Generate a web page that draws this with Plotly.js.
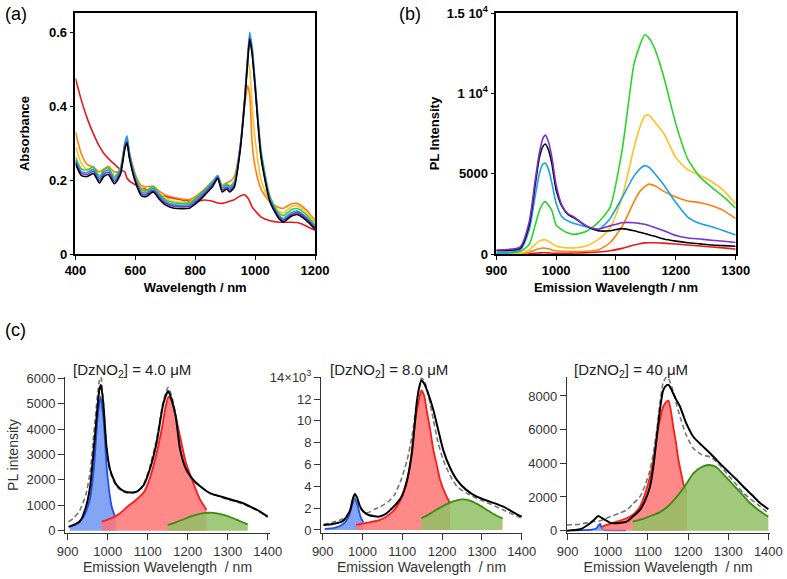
<!DOCTYPE html>
<html>
<head>
<meta charset="utf-8">
<script src="https://cdn.plot.ly/plotly-3.0.1.min.js"></script>
<style>
  html, body { margin: 0; padding: 0; background: #fff; }
  #chart { width: 787px; height: 579px; }
</style>
</head>
<body>
<div id="chart"></div>
<script>
// ---- (a) absorbance spectra ----
const wlA = [400,420,440,460,480,495,510,530,550,565,572,580,600,620,635,660,680,700,730,780,800,830,860,875,890,905,915,930,950,965,975,982,990,1000,1020,1050,1080,1095,1120,1140,1170,1200];
const absRed = [0.475,0.415,0.365,0.325,0.291,0.272,0.258,0.243,0.228,0.222,0.205,0.198,0.187,0.178,0.175,0.168,0.16,0.156,0.15,0.143,0.142,0.146,0.142,0.138,0.137,0.14,0.143,0.147,0.157,0.16,0.152,0.142,0.127,0.117,0.1,0.09,0.086,0.086,0.086,0.085,0.076,0.064];
const absOrange = [0.331,0.27,0.242,0.235,0.222,0.23,0.237,0.222,0.225,0.295,0.307,0.275,0.215,0.185,0.182,0.183,0.17,0.16,0.153,0.147,0.155,0.175,0.198,0.21,0.187,0.193,0.196,0.209,0.29,0.4,0.455,0.43,0.3,0.235,0.175,0.14,0.125,0.124,0.135,0.137,0.12,0.09];
const absYellow = [0.29,0.245,0.228,0.23,0.21,0.222,0.228,0.21,0.225,0.29,0.305,0.27,0.21,0.178,0.172,0.18,0.165,0.152,0.142,0.14,0.15,0.17,0.192,0.207,0.185,0.19,0.185,0.195,0.28,0.42,0.52,0.5,0.4,0.31,0.2,0.14,0.115,0.112,0.128,0.13,0.115,0.085];
const absGreen = [0.262,0.23,0.228,0.236,0.21,0.228,0.233,0.208,0.233,0.3,0.315,0.275,0.212,0.174,0.17,0.183,0.163,0.147,0.138,0.138,0.15,0.172,0.198,0.212,0.183,0.19,0.183,0.195,0.29,0.42,0.53,0.59,0.56,0.465,0.28,0.155,0.11,0.104,0.12,0.123,0.107,0.078];
const absCyan = [0.255,0.223,0.221,0.229,0.204,0.222,0.227,0.202,0.227,0.3,0.32,0.272,0.206,0.168,0.165,0.178,0.158,0.142,0.133,0.133,0.145,0.168,0.195,0.212,0.178,0.186,0.178,0.19,0.29,0.42,0.535,0.6,0.555,0.46,0.27,0.148,0.104,0.096,0.112,0.116,0.1,0.074];
const absPurple = [0.25,0.218,0.216,0.224,0.198,0.216,0.221,0.196,0.221,0.29,0.305,0.265,0.2,0.163,0.16,0.173,0.153,0.138,0.129,0.129,0.14,0.163,0.19,0.208,0.173,0.181,0.173,0.185,0.285,0.415,0.525,0.585,0.545,0.455,0.265,0.145,0.1,0.092,0.107,0.112,0.097,0.071];
const absBlack = [0.245,0.212,0.21,0.218,0.192,0.21,0.215,0.19,0.215,0.285,0.3,0.26,0.195,0.158,0.155,0.168,0.148,0.133,0.124,0.124,0.135,0.158,0.185,0.205,0.168,0.176,0.168,0.18,0.28,0.41,0.52,0.58,0.54,0.45,0.26,0.14,0.095,0.087,0.102,0.107,0.092,0.067];

// ---- (b) PL spectra ----
const wlB = [900,940,955,965,972,978,982,987,993,1000,1010,1020,1030,1050,1070,1090,1110,1130,1140,1148,1155,1165,1180,1200,1220,1240,1260,1280,1300];
const plPurple = [250,450,2000,4600,6300,7200,7400,7000,6000,4300,3000,2500,2300,1750,1550,1750,1950,1950,1900,1850,1780,1650,1450,1150,1000,930,860,790,720];
const plBlack = [200,350,1800,4300,6000,6700,6850,6500,5600,4000,2950,2450,2250,1750,1450,1450,1580,1450,1350,1280,1200,1100,930,800,700,630,560,520,480];
const plCyan = [40,250,1500,3600,5000,5600,5650,5300,4400,3160,2300,2050,1900,1700,1500,2200,3500,4850,5300,5500,5400,5000,4300,3200,2300,1900,1700,1450,1180];
const plGreen = [40,150,600,1800,2700,3150,3260,3050,2700,1800,1500,1300,1220,1400,1950,2900,6400,11800,13000,13650,13450,12750,11000,8100,5900,4800,4150,3550,2850];
const plYellow = [0,40,250,600,800,880,880,800,650,500,420,380,380,500,900,1600,3500,6600,7900,8600,8650,8200,7500,6000,5250,4900,4500,3950,3100];
const plOrange = [0,20,100,250,330,370,360,330,250,200,170,150,150,170,250,700,1700,3250,3900,4200,4350,4250,3900,3550,3300,3200,3000,2700,2200];
const plRed = [0,0,20,50,70,80,80,70,50,40,40,50,60,80,120,200,350,560,640,690,700,700,680,620,560,500,440,380,300];

// ---- (c) peak fits, [DzNO2] = 4.0 uM ----
const c1Wl = [902,915,930,945,956,968,979,983,989,997,1006,1022,1040,1060,1075,1090,1105,1122,1139,1151,1160,1170,1181,1195,1214,1235,1256,1277,1297,1318,1339,1360,1381,1400];
const c1Data = [150,230,350,900,1730,3700,5540,5740,5000,3300,2400,1800,1560,1500,1560,1800,2400,3440,5000,5500,5150,4500,3200,2450,2000,1700,1470,1370,1280,1180,1080,920,750,550];
const c1Fit = [350,500,800,1400,2300,4300,5900,6050,5100,3300,2300,1750,1520,1480,1560,1850,2500,3600,5100,5650,5300,4550,3200,2400,1950,1700,1480,1360,1250,1150,1050,900,730,530];
const c1BlueWl = [905,920,940,955,965,975,982,990,998,1010,1020];
const c1Blue = [160,250,550,1200,2400,4500,5270,4300,2400,950,480];
const c1RedWl = [985,1010,1030,1050,1070,1090,1105,1120,1135,1145,1152,1160,1170,1181,1195,1214,1230,1247];
const c1Red = [355,500,680,950,1200,1500,2050,2900,4000,4900,5280,5100,4500,3700,2700,1870,1250,815];
const c1GreenWl = [1150,1170,1190,1210,1230,1250,1270,1290,1310,1330,1350];
const c1Green = [225,330,450,570,660,705,690,620,510,380,250];

// ---- (c) [DzNO2] = 8.0 uM (x10^3) ----
const c2Wl = [902,925,948,960,969,976,981,987,994,1005,1015,1030,1040,1055,1065,1080,1098,1112,1124,1136,1142,1148,1155,1165,1178,1190,1203,1220,1237,1260,1287,1320,1354,1380,1400];
const c2Data = [0.46,0.55,0.76,1.2,1.83,2.9,3.3,2.9,2.14,1.6,1.37,1.25,1.22,1.4,1.68,2.2,3.05,4.6,7.0,11.6,13.0,13.7,13.4,12.5,11.0,9.2,7.3,5.7,4.6,3.7,3.05,2.6,2.14,1.6,1.22];
const c2Fit = [0.5,0.7,0.98,1.3,1.9,2.6,2.9,2.6,2.0,1.55,1.6,1.9,2.05,2.35,2.6,3.2,4.7,6.4,8.5,11.6,12.9,13.9,13.7,12.4,10.1,8.0,6.4,5.0,4.0,3.4,2.9,2.4,1.83,1.4,1.07];
const c2BlueWl = [905,930,950,965,975,981,988,995,1002];
const c2Blue = [0.1,0.2,0.5,1.2,2.4,2.9,2.2,1.2,0.7];
const c2RedWl = [984,1010,1044,1070,1086,1100,1111,1120,1128,1135,1140,1148,1155,1161,1170,1178,1187,1195,1207,1220];
const c2Red = [0.46,0.65,0.92,1.5,2.14,3.1,4.28,6.2,8.55,10.6,11.6,12.8,12.3,11.0,9.2,7.33,5.9,4.58,3.4,2.44];
const c2GreenWl = [1148,1170,1190,1210,1230,1250,1270,1290,1310,1330,1352];
const c2Green = [1.07,1.5,1.95,2.35,2.65,2.8,2.7,2.35,1.9,1.45,1.07];

// ---- (c) [DzNO2] = 40 uM ----
const c3Wl = [898,931,956,966,976,985,993,1005,1014,1030,1047,1063,1080,1093,1105,1114,1122,1130,1138,1147,1152,1160,1170,1180,1195,1213,1235,1255,1275,1296,1318,1338,1360,1380,1400];
const c3Data = [0,80,440,650,870,750,640,480,440,460,535,850,1230,1800,2610,3900,5580,7200,8350,8650,8650,8300,7800,7360,6400,5580,5050,4600,4100,3600,3100,2610,2100,1630,1270];
const c3Fit = [340,380,510,540,560,620,700,830,900,1050,1230,1600,2020,2700,3600,4700,5980,7600,8800,9150,9000,8500,7600,6770,5700,4890,4500,4380,4000,3410,2800,2220,1800,1430,1030];
const c3BlueWl = [910,940,960,972,978,981,984,990,1010,1045];
const c3Blue = [20,30,60,150,350,400,200,60,20,15];
const c3RedWl = [985,1005,1025,1047,1065,1080,1093,1105,1114,1122,1130,1138,1144,1151,1158,1163,1170,1176,1182,1188,1197];
const c3Red = [240,400,560,736,1000,1425,2200,3207,4300,5582,6600,7363,7600,7720,7000,6176,5200,4198,3500,2815,2220];
const c3GreenWl = [1062,1090,1110,1130,1150,1172,1195,1213,1235,1251,1270,1290,1313,1335,1355,1380,1400];
const c3Green = [535,720,900,1100,1450,2020,2750,3400,3800,3900,3780,3300,2710,2150,1630,1150,830];

const titles = ['[DzNO<sub>2</sub>] = 4.0 μM', '[DzNO<sub>2</sub>] = 8.0 μM', '[DzNO<sub>2</sub>] = 40 μM'];

const FONT = 'Arial, "Liberation Sans", sans-serif';
const col = {
    red: '#e41a1c', orange: '#ff7f0e', yellow: '#ffc125', green: '#2bd42b',
    cyan: '#1ba1e2', purple: '#7b2fd6', black: '#000000'
};

function line(x, y, color, xa, ya, width) {
    return { x, y, xaxis: xa, yaxis: ya, type: 'scatter', mode: 'lines',
             line: { color, width: width || 1.6, shape: 'spline', smoothing: 0.6 } };
}

function area(x, y, lineColor, fillColor, xa, ya) {
    return { x, y, xaxis: xa, yaxis: ya, type: 'scatter', mode: 'lines',
             fill: 'tozeroy', fillcolor: fillColor,
             line: { color: lineColor, width: 1.8, shape: 'spline', smoothing: 0.6 } };
}

function fitPanel(xa, ya, bx, by, rx, ry, gx, gy, wl, fit, data) {
    return [
        area(bx, by, '#1f4fe6', 'rgba(90,135,240,0.75)', xa, ya),
        area(rx, ry, '#ff1a1a', 'rgba(255,115,115,0.85)', xa, ya),
        area(gx, gy, '#3a8c14', 'rgba(145,192,100,0.85)', xa, ya),
        { x: wl, y: fit, xaxis: xa, yaxis: ya, type: 'scatter', mode: 'lines',
          line: { color: '#777', width: 1.6, dash: '5px,3px', shape: 'spline', smoothing: 0.6 } },
        line(wl, data, '#000', xa, ya, 2)
    ];
}

const traces = [
    line(wlA, absRed, col.red, 'x', 'y'),
    line(wlA, absOrange, col.orange, 'x', 'y'),
    line(wlA, absYellow, col.yellow, 'x', 'y'),
    line(wlA, absGreen, col.green, 'x', 'y'),
    line(wlA, absCyan, col.cyan, 'x', 'y'),
    line(wlA, absPurple, col.purple, 'x', 'y'),
    line(wlA, absBlack, col.black, 'x', 'y'),

    line(wlB, plRed, col.red, 'x2', 'y2'),
    line(wlB, plOrange, col.orange, 'x2', 'y2'),
    line(wlB, plYellow, col.yellow, 'x2', 'y2'),
    line(wlB, plGreen, col.green, 'x2', 'y2'),
    line(wlB, plCyan, col.cyan, 'x2', 'y2'),
    line(wlB, plBlack, col.black, 'x2', 'y2'),
    line(wlB, plPurple, col.purple, 'x2', 'y2'),

    ...fitPanel('x3', 'y3', c1BlueWl, c1Blue, c1RedWl, c1Red, c1GreenWl, c1Green, c1Wl, c1Fit, c1Data),
    ...fitPanel('x4', 'y4', c2BlueWl, c2Blue, c2RedWl, c2Red, c2GreenWl, c2Green, c2Wl, c2Fit, c2Data),
    ...fitPanel('x5', 'y5', c3BlueWl, c3Blue, c3RedWl, c3Red, c3GreenWl, c3Green, c3Wl, c3Fit, c3Data)
];

const boldFont = { family: FONT, size: 13, color: '#000', weight: 'bold' };
const boxAxis = {
    showline: true, mirror: true, linecolor: '#000', linewidth: 1.5,
    ticks: 'outside', ticklen: 4, tickcolor: '#000', tickwidth: 1.2,
    showgrid: false, zeroline: false, tickfont: boldFont
};
const cFont = { family: FONT, size: 13, color: '#333' };
const cAxis = {
    showline: true, linecolor: '#333', linewidth: 1,
    ticks: 'outside', ticklen: 6, tickcolor: '#333',
    showgrid: false, zeroline: false, tickfont: cFont
};
const cDomY = [0.079, 0.3494];
const cTitleX = { text: 'Emission Wavelength  / nm', font: { family: FONT, size: 14, color: '#333' }, standoff: 4 };

const layout = {
    width: 787, height: 579,
    margin: { l: 0, r: 0, t: 0, b: 0 },
    paper_bgcolor: '#fff', plot_bgcolor: 'rgba(0,0,0,0)',
    showlegend: false,
    font: { family: FONT },

    xaxis: { ...boxAxis, domain: [0.0959, 0.4003], range: [400, 1200], tickvals: [400, 600, 800, 1000, 1200],
             title: { text: 'Wavelength / nm', font: boldFont, standoff: 6 } },
    yaxis: { ...boxAxis, domain: [0.5613, 0.9775], range: [0, 0.652], tickvals: [0, 0.2, 0.4, 0.6],
             title: { text: 'Absorbance', font: boldFont, standoff: 16 } },

    xaxis2: { ...boxAxis, anchor: 'y2', domain: [0.6306, 0.9348], range: [900, 1300], dtick: 100,
              title: { text: 'Emission Wavelength / nm', font: boldFont, standoff: 6 } },
    yaxis2: { ...boxAxis, anchor: 'x2', domain: [0.5613, 0.9775], range: [0, 15000],
              tickvals: [0, 5000, 10000, 15000], ticktext: ['0', '5000', '1 10<sup>4</sup>', '1.5 10<sup>4</sup>'],
              title: { text: 'PL Intensity', font: boldFont, standoff: 4 } },

    xaxis3: { ...cAxis, anchor: 'y3', domain: [0.0826, 0.3431], range: [893.25, 1405.75], dtick: 100, title: cTitleX },
    yaxis3: { ...cAxis, anchor: 'x3', domain: cDomY, range: [-102, 6063], dtick: 1000,
              title: { text: 'PL intensity', font: { family: FONT, size: 14, color: '#333' }, standoff: 4 } },

    xaxis4: { ...cAxis, anchor: 'y4', domain: [0.4079, 0.6633], range: [895.7, 1400.8], dtick: 100, title: cTitleX },
    yaxis4: { ...cAxis, anchor: 'x4', domain: cDomY, range: [-0.3, 14.05],
              tickvals: [0, 2, 4, 6, 8, 10, 12, 14],
              ticktext: ['0', '2', '4', '6', '8', '10', '12', '14×10<sup>3</sup>'] },

    xaxis5: { ...cAxis, anchor: 'y5', domain: [0.7201, 0.9778], range: [897.5, 1403], dtick: 100, title: cTitleX },
    yaxis5: { ...cAxis, anchor: 'x5', domain: cDomY, range: [-154, 9145], dtick: 2000 },

    annotations: [
        { text: '(a)', x: 3 / 787, y: 1 - 14 / 579, xref: 'paper', yref: 'paper', xanchor: 'left', yanchor: 'middle',
          showarrow: false, font: { family: FONT, size: 18, color: '#000' } },
        { text: '(b)', x: 397 / 787, y: 1 - 14 / 579, xref: 'paper', yref: 'paper', xanchor: 'left', yanchor: 'middle',
          showarrow: false, font: { family: FONT, size: 18, color: '#000' } },
        { text: '(c)', x: 3 / 787, y: 1 - 330 / 579, xref: 'paper', yref: 'paper', xanchor: 'left', yanchor: 'middle',
          showarrow: false, font: { family: FONT, size: 18, color: '#000' } },
        ...[132, 389, 631].map((cx, i) => ({
            text: titles[i], x: cx / 787, y: 1 - 370 / 579, xref: 'paper', yref: 'paper',
            xanchor: 'center', yanchor: 'middle', showarrow: false,
            font: { family: FONT, size: 15, color: '#222' }
        }))
    ]
};

Plotly.newPlot('chart', traces, layout, { displayModeBar: false });
</script>
</body>
</html>
